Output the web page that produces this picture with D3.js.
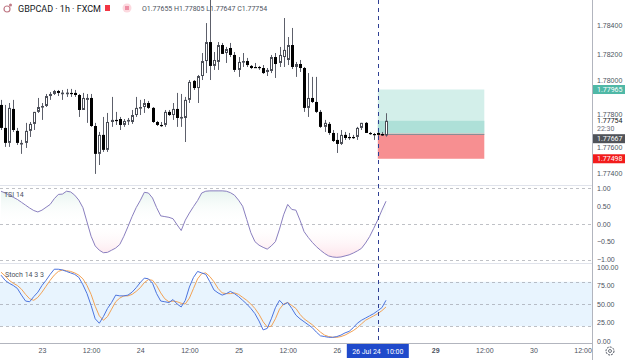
<!DOCTYPE html>
<head>
<meta charset="utf-8">
<style>
body {
  margin: 0;
  background: #fff;
}
svg {
  display: block;
  font-family: Roboto, "Liberation Sans", Arial, sans-serif;
}
.grid {
  stroke: #9598a1;
  stroke-width: 1;
  stroke-dasharray: 3,3;
  opacity: 0.6;
}
.axis text {
  fill: #4c525e;
  font-size: 7px;
}
</style>
</head>
<body>
<script src="https://d3js.org/d3.v7.min.js"></script>
<script>
// hourly candles, 22 Jul 14:00 .. 26 Jul 12:00
var opens = [1.77861,1.77706,1.77605,1.77834,1.77686,1.77598,1.77605,1.77686,1.77733,1.77814,
  1.77847,1.77854,1.77921,1.77935,1.77955,1.77942,1.77942,1.77942,1.77942,1.77928,
  1.77827,1.77895,1.77908,1.77719,1.77531,1.77659,1.77558,1.77746,1.7776,1.77766,
  1.77726,1.77753,1.77746,1.77793,1.77841,1.77847,1.77874,1.77841,1.77746,1.77726,
  1.77726,1.77814,1.77793,1.77834,1.77773,1.77773,1.77895,1.78023,1.77975,1.78056,
  1.78157,1.78285,1.78124,1.78151,1.78265,1.78211,1.78245,1.78198,1.78097,1.78151,
  1.78157,1.78124,1.78117,1.78117,1.7811,1.78083,1.7809,1.78184,1.78144,1.78184,
  1.78164,1.78265,1.78117,1.78137,1.7811,1.77841,1.77908,1.77881,1.77814,1.77713,
  1.77733,1.77672,1.77625,1.77598,1.77659,1.77645,1.77645,1.77645,1.77706,1.7774,
  1.77672,1.77665,1.77672,1.77665,1.77655];
var highs = [1.77895,1.77861,1.77874,1.77895,1.77706,1.77625,1.7774,1.77746,1.77814,1.77908,
  1.77874,1.77935,1.77948,1.77962,1.77962,1.77962,1.77969,1.77969,1.77962,1.77935,
  1.77942,1.77935,1.77935,1.7774,1.77679,1.7778,1.77807,1.77915,1.77814,1.7778,
  1.77766,1.77773,1.77827,1.77915,1.77895,1.77901,1.77888,1.77847,1.77753,1.77746,
  1.77827,1.77827,1.77874,1.77942,1.77935,1.77915,1.78029,1.78029,1.78063,1.78211,
  1.78413,1.78570,1.78218,1.78285,1.78279,1.78252,1.78279,1.78218,1.78184,1.78211,
  1.78178,1.7813,1.78144,1.78124,1.7813,1.7811,1.78198,1.78211,1.78252,1.78447,
  1.78319,1.7838,1.78151,1.78164,1.78117,1.78076,1.7805,1.7805,1.77827,1.7776,
  1.77746,1.77692,1.77672,1.77692,1.77679,1.77672,1.77659,1.77713,1.7774,1.77746,
  1.77679,1.77672,1.77679,1.77679,1.77805];
var lows = [1.77692,1.77578,1.77578,1.77679,1.77591,1.77531,1.77571,1.77645,1.77692,1.77807,
  1.7776,1.77847,1.77895,1.77928,1.77921,1.77895,1.77915,1.77915,1.77915,1.7778,
  1.77827,1.7774,1.77713,1.77396,1.77456,1.77544,1.77544,1.77713,1.77726,1.77692,
  1.77713,1.77726,1.77733,1.7778,1.77793,1.77807,1.77834,1.7774,1.77719,1.77713,
  1.77713,1.77787,1.7776,1.77713,1.77713,1.77611,1.77874,1.77962,1.77874,1.78029,
  1.78076,1.78029,1.78097,1.78097,1.78205,1.78144,1.78184,1.78083,1.7805,1.78117,
  1.78117,1.78103,1.7811,1.78097,1.7807,1.78056,1.78076,1.78043,1.78117,1.78117,
  1.7813,1.78103,1.7805,1.78083,1.77814,1.7778,1.77874,1.77807,1.77706,1.77679,
  1.77659,1.77611,1.77537,1.77591,1.77625,1.77625,1.77632,1.77625,1.77692,1.77672,
  1.77659,1.77625,1.77652,1.77652,1.77647];
var closes = [1.77706,1.77605,1.77841,1.77692,1.77605,1.77605,1.77686,1.77733,1.77814,1.77847,
  1.77854,1.77921,1.77935,1.77955,1.77942,1.77944,1.77944,1.77935,1.77928,1.77827,
  1.77908,1.77908,1.77719,1.77531,1.77659,1.77558,1.77746,1.7776,1.77757,1.77726,
  1.77753,1.7776,1.77793,1.77841,1.77847,1.77874,1.77841,1.77746,1.77726,1.77724,
  1.77814,1.77793,1.77834,1.77773,1.7778,1.77895,1.78016,1.77975,1.78056,1.78157,
  1.78285,1.78124,1.78164,1.78265,1.78205,1.78238,1.78198,1.78097,1.78151,1.78157,
  1.7813,1.7811,1.78115,1.7811,1.78076,1.78097,1.78184,1.78137,1.78198,1.78232,
  1.78265,1.78117,1.78137,1.7811,1.77841,1.77908,1.77881,1.77814,1.77713,1.7774,
  1.77672,1.77618,1.77598,1.77659,1.77638,1.77643,1.77641,1.77706,1.7774,1.77672,
  1.77665,1.77663,1.77659,1.77655,1.77754];

// TSI 14
var tsi = [0.91,0.86,0.8,0.74,0.68,0.6,0.52,0.44,0.37,0.33,
  0.38,0.46,0.54,0.7,0.82,0.83,0.91,0.89,0.8,0.66,
  0.45,0.05,-0.35,-0.62,-0.74,-0.81,-0.8,-0.74,-0.68,-0.58,
  -0.35,-0.08,0.2,0.45,0.65,0.88,0.86,0.72,0.45,0.22,
  0.2,0.18,0.14,-0.03,-0.19,0.1,0.3,0.48,0.65,0.86,
  0.91,0.92,0.92,0.92,0.92,0.91,0.87,0.8,0.66,0.49,
  0.12,-0.25,-0.5,-0.6,-0.66,-0.71,-0.62,-0.5,-0.15,0.25,
  0.54,0.4,0.38,0.1,-0.22,-0.38,-0.52,-0.64,-0.74,-0.83,
  -0.9,-0.93,-0.94,-0.93,-0.9,-0.87,-0.82,-0.76,-0.69,-0.54,
  -0.36,-0.13,0.11,0.38,0.63];

// Stoch 14 3 3
var stochK = [89,82,78,75,71,62,54,53,60,66,
  75,82,90,97,97,96,94,92,90,86,
  76,64,48,30,24,33,44,52,62,61,
  61,62,66,72,79,85,84,78,64,54,
  53,52,56,50,46,55,73,86,94,92,
  90,80,69,65,62,64,67,64,60,55,
  50,44,37,27,15,17,30,45,55,49,
  52,44,35,30,26,22,18,12,7,6,
  5,5,6,8,11,13,18,24,28,31,
  34,37,41,45,55];
var stochD = [93,88,82,78,75,70,63,57,55,59,
  66,74,82,89,94,96,95,94,92,89,
  84,75,63,47,34,28,33,43,53,58,
  61,61,63,67,72,79,83,82,75,65,
  57,53,54,53,51,50,58,71,84,91,
  92,87,80,71,65,64,64,65,63,59,
  55,50,44,36,26,19,20,30,43,50,
  52,48,44,36,30,26,22,17,12,8,
  6,5,5,6,8,11,14,18,23,28,
  31,34,37,41,46];

// time axis (bar index -> label)
var timeTickIdx = [10, 22, 34, 46, 58, 70, 82, 106, 118, 130, 142];
var timeTickLabels = ["23", "12:00", "24", "12:00", "25", "12:00", "26", "29", "12:00", "30", "12:00"];
var priceTicks = [1.784, 1.782, 1.780, 1.778, 1.776, 1.774];
var tsiTicks = [1, 0.5, 0, -0.5, -1];
var stochTicks = [100, 75, 50, 25, 0];

// long position tool + markers
var entryPrice = 1.77667, targetPrice = 1.77965, stopPrice = 1.77498, lastPrice = 1.77754;
var posStart = 92, posEnd = 118, crossIdx = 92;

(function() {
  var W = 625, H = 360,
      axisX = 592,
      mainBottom = 185,
      tsiBottom = 263,
      stBottom = 343;

  var sx = d3.scaleLinear().domain([0, 94]).range([1, 386]);
  var sy = d3.scaleLinear().domain([1.774, 1.784]).range([173.3, 25]);
  var syTsi = d3.scaleLinear().domain([-1, 1]).range([259.5, 188]);
  var sySt = d3.scaleLinear().domain([0, 100]).range([341, 267]);

  var svg = d3.select("body").append("svg")
    .attr("width", W)
    .attr("height", H);

  var defs = svg.append("defs");
  defs.append("clipPath").attr("id", "clipMain")
    .append("rect").attr("x", 0).attr("y", 0).attr("width", axisX).attr("height", mainBottom);
  var grad = defs.append("linearGradient").attr("id", "tsiFill")
    .attr("gradientUnits", "userSpaceOnUse")
    .attr("x1", 0).attr("x2", 0).attr("y1", syTsi(1)).attr("y2", syTsi(-1));
  grad.append("stop").attr("offset", "0%").attr("stop-color", "#4caf8a").attr("stop-opacity", 0.16);
  grad.append("stop").attr("offset", "50%").attr("stop-color", "#ffffff").attr("stop-opacity", 0);
  grad.append("stop").attr("offset", "100%").attr("stop-color", "#f23669").attr("stop-opacity", 0.16);

  var idx = d3.range(opens.length);

  //
  // pane separators
  //
  svg.append("line").attr("x1", 0).attr("x2", W).attr("y1", mainBottom + 0.5).attr("y2", mainBottom + 0.5)
    .attr("stroke", "#e0e3eb");
  svg.append("line").attr("x1", 0).attr("x2", W).attr("y1", tsiBottom + 0.5).attr("y2", tsiBottom + 0.5)
    .attr("stroke", "#e0e3eb");

  //
  // main pane
  //
  var main = svg.append("g").attr("clip-path", "url(#clipMain)");

  // position tool
  var px0 = sx(posStart), px1 = sx(posEnd);
  main.append("rect").attr("x", px0).attr("width", px1 - px0)
    .attr("y", sy(targetPrice)).attr("height", sy(entryPrice) - sy(targetPrice))
    .attr("fill", "#d3efea");
  main.append("rect").attr("x", px0).attr("width", px1 - px0)
    .attr("y", sy(lastPrice)).attr("height", sy(entryPrice) - sy(lastPrice))
    .attr("fill", "#aee0d8");
  main.append("rect").attr("x", px0).attr("width", px1 - px0)
    .attr("y", sy(entryPrice)).attr("height", sy(stopPrice) - sy(entryPrice))
    .attr("fill", "#f78f91");
  main.append("line").attr("x1", px0).attr("x2", px1)
    .attr("y1", Math.round(sy(entryPrice)) + 0.5).attr("y2", Math.round(sy(entryPrice)) + 0.5)
    .attr("stroke", "#8a8d96");

  // candles
  var candle = main.selectAll("g.candle").data(idx).enter().append("g").attr("class", "candle");
  candle.append("line")
    .attr("x1", function(i) { return Math.round(sx(i)) + 0.5; })
    .attr("x2", function(i) { return Math.round(sx(i)) + 0.5; })
    .attr("y1", function(i) { return sy(highs[i]); })
    .attr("y2", function(i) { return sy(lows[i]); })
    .attr("stroke", "#5d606b");
  candle.append("rect")
    .attr("x", function(i) { return Math.round(sx(i)) - 1 + (closes[i] >= opens[i] ? 0.5 : 0); })
    .attr("width", function(i) { return closes[i] >= opens[i] ? 2 : 3; })
    .attr("y", function(i) { return Math.min(sy(opens[i]), sy(closes[i])) + (closes[i] >= opens[i] ? 0.5 : 0); })
    .attr("height", function(i) {
      var h = Math.abs(sy(opens[i]) - sy(closes[i]));
      return closes[i] >= opens[i] ? Math.max(h - 1, 0.6) : Math.max(h, 1.2);
    })
    .attr("fill", function(i) { return closes[i] >= opens[i] ? "#ffffff" : "#000000"; })
    .attr("stroke", function(i) { return closes[i] >= opens[i] ? "#4a4d56" : "none"; })
    .attr("stroke-width", 1);

  //
  // TSI pane
  //
  [1, 0, -1].forEach(function(v) {
    svg.append("line").attr("class", "grid")
      .attr("x1", 0).attr("x2", axisX)
      .attr("y1", Math.round(syTsi(v)) + 0.5).attr("y2", Math.round(syTsi(v)) + 0.5);
  });
  var tsiArea = d3.area()
    .x(function(i) { return sx(i); })
    .y0(syTsi(0))
    .y1(function(i) { return syTsi(tsi[i]); });
  svg.append("path").attr("d", tsiArea(idx)).attr("fill", "url(#tsiFill)");
  var tsiLine = d3.line()
    .x(function(i) { return sx(i); })
    .y(function(i) { return syTsi(tsi[i]); });
  svg.append("path").attr("d", tsiLine(idx))
    .attr("fill", "none").attr("stroke", "#8a7fbf").attr("stroke-width", 1);
  svg.append("text").attr("x", 4).attr("y", 197).text("TSI 14")
    .attr("font-size", "7px").attr("fill", "#4c525e");

  //
  // Stoch pane
  //
  svg.append("rect").attr("x", 0).attr("width", axisX)
    .attr("y", sySt(80)).attr("height", sySt(20) - sySt(80))
    .attr("fill", "#2196f3").attr("fill-opacity", 0.1);
  [80, 50, 20].forEach(function(v) {
    svg.append("line").attr("class", "grid")
      .attr("x1", 0).attr("x2", axisX)
      .attr("y1", Math.round(sySt(v)) + 0.5).attr("y2", Math.round(sySt(v)) + 0.5);
  });
  var kLine = d3.line().x(function(i) { return sx(i); }).y(function(i) { return sySt(stochK[i]); });
  var dLine = d3.line().x(function(i) { return sx(i); }).y(function(i) { return sySt(stochD[i]); });
  svg.append("path").attr("d", dLine(idx))
    .attr("fill", "none").attr("stroke", "#f2a255").attr("stroke-width", 1);
  svg.append("path").attr("d", kLine(idx))
    .attr("fill", "none").attr("stroke", "#4d74de").attr("stroke-width", 1);
  svg.append("text").attr("x", 5).attr("y", 277).text("Stoch 14 3 3")
    .attr("font-size", "7px").attr("fill", "#4c525e");

  //
  // crosshair
  //
  svg.append("line")
    .attr("x1", Math.round(sx(crossIdx)) + 0.5).attr("x2", Math.round(sx(crossIdx)) + 0.5)
    .attr("y1", 0).attr("y2", stBottom)
    .attr("stroke", "#2f3f94").attr("stroke-width", 1).attr("stroke-dasharray", "4,4");

  //
  // axes
  //
  svg.append("rect").attr("x", axisX).attr("y", 0).attr("width", W - axisX).attr("height", H).attr("fill", "#fff");
  svg.append("rect").attr("x", 0).attr("y", stBottom).attr("width", W).attr("height", H - stBottom).attr("fill", "#fff");
  svg.append("line").attr("x1", axisX + 0.5).attr("x2", axisX + 0.5).attr("y1", 0).attr("y2", H)
    .attr("stroke", "#b2b5be");
  svg.append("line").attr("x1", 0).attr("x2", axisX).attr("y1", stBottom + 0.5).attr("y2", stBottom + 0.5)
    .attr("stroke", "#b2b5be");

  var priceAxis = d3.axisRight(sy).tickValues(priceTicks).tickFormat(d3.format(".5f")).tickSize(0).tickPadding(5);
  var tsiAxis = d3.axisRight(syTsi).tickValues(tsiTicks).tickFormat(d3.format(".2f")).tickSize(0).tickPadding(5);
  var stAxis = d3.axisRight(sySt).tickValues(stochTicks).tickFormat(d3.format(".2f")).tickSize(0).tickPadding(5);
  [priceAxis, tsiAxis, stAxis].forEach(function(ax, k) {
    var g = svg.append("g").attr("class", "axis").attr("transform", "translate(" + axisX + ",0)").call(ax);
    g.select(".domain").remove();
    g.selectAll("text").attr("font-family", null);
    if (k === 0) {
      // ticks partly hidden by the price labels: keep them just clear of the boxes
      g.selectAll(".tick text").attr("dy", function(d) {
        if (Math.abs(d - 1.780) < 1e-6) return "-0.25em";
        if (Math.abs(d - 1.776) < 1e-6) return "0.9em";
        return "0.32em";
      });
    }
  });

  var timeAxis = d3.axisBottom(sx).tickValues(timeTickIdx)
    .tickFormat(function(d, k) { return timeTickLabels[k]; })
    .tickSize(0).tickPadding(5);
  var gt = svg.append("g").attr("class", "axis").attr("transform", "translate(0," + stBottom + ")").call(timeAxis);
  gt.select(".domain").remove();
  gt.selectAll("text").attr("font-family", null)
    .attr("fill", function(d, k) { return timeTickLabels[k] === "29" ? "#131722" : "#4c525e"; })
    .attr("font-weight", function(d, k) { return timeTickLabels[k] === "29" ? "bold" : null; });

  // price labels on the axis
  function priceLabel(y, text, fill, color) {
    svg.append("rect").attr("x", axisX + 1).attr("y", y - 4.5).attr("width", W - axisX - 1).attr("height", 9)
      .attr("fill", fill);
    svg.append("text").attr("x", axisX + 5).attr("y", y + 2.5).text(text)
      .attr("font-size", "7px").attr("fill", color);
  }
  priceLabel(sy(targetPrice), d3.format(".5f")(targetPrice), "#4fb8a6", "#fff");
  svg.append("text").attr("x", axisX + 5).attr("y", sy(lastPrice) + 2.5).text(d3.format(".5f")(lastPrice))
    .attr("font-size", "7px").attr("fill", "#131722");
  svg.append("text").attr("x", axisX + 5).attr("y", sy(lastPrice) + 10.5).text("22:30")
    .attr("font-size", "7px").attr("fill", "#6a6d78");
  priceLabel(sy(entryPrice) + 5, d3.format(".5f")(entryPrice), "#505359", "#fff");
  priceLabel(sy(stopPrice), d3.format(".5f")(stopPrice), "#f21c1c", "#fff");

  // crosshair time label
  var cx = sx(crossIdx);
  svg.append("rect").attr("x", cx - 31).attr("y", stBottom + 1).attr("width", 62).attr("height", 14)
    .attr("fill", "#1f4acb");
  svg.append("text").attr("x", cx).attr("y", stBottom + 10.5).attr("text-anchor", "middle")
    .attr("font-size", "7px").attr("fill", "#fff").attr("xml:space", "preserve").text("26 Jul 24   10:00");

  // gear icon
  var gear = svg.append("g").attr("transform", "translate(610,351)");
  gear.append("circle").attr("r", 4).attr("fill", "none").attr("stroke", "#4c525e").attr("stroke-width", 1).attr("stroke-dasharray", "2,1");
  gear.append("circle").attr("r", 1.5).attr("fill", "none").attr("stroke", "#4c525e").attr("stroke-width", 0.8);

  //
  // legend
  //
  var lg = svg.append("g");
  lg.append("circle").attr("cx", 7).attr("cy", 9).attr("r", 3).attr("fill", "none").attr("stroke", "#c07a86").attr("stroke-width", 1.2);
  lg.append("circle").attr("cx", 10.5).attr("cy", 5).attr("r", 1.5).attr("fill", "#c07a86");
  lg.append("text").attr("x", 18).attr("y", 11.5).text("GBPCAD · 1h · FXCM")
    .attr("font-size", "9px").attr("fill", "#131722");
  lg.append("rect").attr("x", 105).attr("y", 5).attr("width", 5).attr("height", 6).attr("fill", "#f23645");
  lg.append("circle").attr("cx", 127).attr("cy", 8).attr("r", 4.5).attr("fill", "#fcd9df");
  lg.append("line").attr("x1", 125).attr("x2", 129).attr("y1", 7).attr("y2", 7).attr("stroke", "#e0446a");
  lg.append("line").attr("x1", 125).attr("x2", 129).attr("y1", 9).attr("y2", 9).attr("stroke", "#e0446a");
  var last = opens.length - 1;
  lg.append("text").attr("x", 142).attr("y", 11).attr("font-size", "7px").attr("fill", "#4c525e")
    .text("O" + d3.format(".5f")(opens[last]) + " H" + d3.format(".5f")(highs[last]) +
          " L" + d3.format(".5f")(lows[last]) + " C" + d3.format(".5f")(closes[last]));
})();
</script>
</body>
